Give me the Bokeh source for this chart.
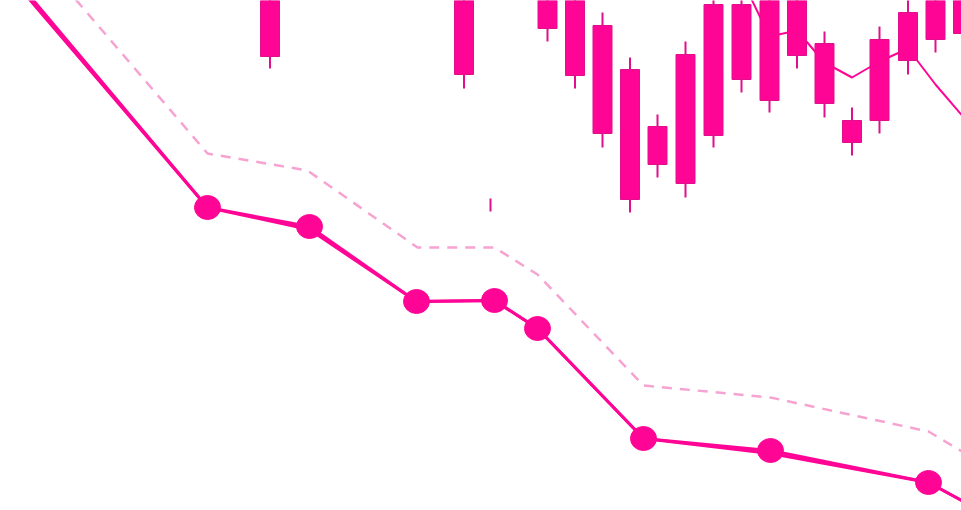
from bokeh.plotting import figure
from bokeh.models import Range1d, ColumnDataSource
from bokeh.embed import file_html
from bokeh.resources import INLINE

# ---- data ----
# candlesticks
candle_x = [269.5, 463.5, 547, 574.5, 602, 629.5, 657, 685, 713, 741, 769, 796.5, 824, 851.5, 879, 907.5, 935, 962.5]
candle_high = [540, 540, 530, 535, 498, 453, 396, 469, 518, 518, 535, 535, 479, 403, 484, 515, 530, 530]
candle_open = [525, 520, 515, 518, 485, 441, 384, 456, 506, 506, 520, 520, 467, 390, 471, 498, 515, 515]
candle_close = [454, 436, 482, 435, 377, 311, 346, 327, 375, 431, 410, 455, 407, 368, 390, 450, 471, 477]
candle_low = [442, 422, 469, 422, 363, 298, 333, 313, 363, 418, 398, 442, 393, 355, 377, 436, 458, 464]

# isolated wick
tick_x = [490]
tick_high = [312]
tick_low = [299]

# thin moving-average line
ma_x = [741, 769, 796.5, 824, 851.5, 879, 907.5, 935, 962.5]
ma_y = [532, 474, 480, 448, 433, 449, 462, 426, 394]

# main series (two nearly coincident lines)
main_x = [-30, 207, 309, 416, 494, 537, 643, 770, 928, 1000]
main_a = [580, 303, 284, 209, 210, 182, 72, 60, 28, -11]
main_b = [585, 303, 281, 209, 210, 182, 72, 57, 28, -11]

# markers on the main series
dot_x = [207, 309, 416, 494, 537, 643, 770, 928]
dot_y = [303, 284, 209, 210, 182, 72, 60, 28]

# dashed upper band
band_x = [-30, 207, 307, 417, 494, 537, 643, 770, 928, 1000]
band_y = [634, 357, 340, 263, 263, 236, 125, 113, 79, 36]

PINK = "#ff0596"
EDGE = "#e0108c"
LIGHT = "#f7a3d1"

p = figure(width=961, height=510, output_backend="svg", toolbar_location=None,
           x_range=Range1d(0, 961), y_range=Range1d(0, 510),
           x_axis_location=None, y_axis_location=None, min_border=0)
p.grid.visible = False
p.outline_line_color = None
p.background_fill_color = "white"
p.border_fill_color = "white"

p.line(band_x, band_y, line_color=LIGHT, line_width=2.5, line_dash="10 8", line_join="round")

p.line(main_x, main_a, line_color=PINK, line_width=3, line_join="round")
p.line(main_x, main_b, line_color=PINK, line_width=3, line_join="round")
p.ellipse(dot_x, dot_y, width=26, height=24, width_units="screen", height_units="screen",
          fill_color=PINK, line_color=PINK, line_width=1)

p.line(ma_x, ma_y, line_color=PINK, line_width=2, line_join="round")

src = ColumnDataSource(dict(x=candle_x, high=candle_high, low=candle_low,
                            top=candle_open, bottom=candle_close))
p.segment(x0="x", y0="high", x1="x", y1="low", source=src, line_color=EDGE, line_width=2)
p.vbar(x="x", width=19, top="top", bottom="bottom", source=src,
       fill_color=PINK, line_color=EDGE, line_width=1)
p.segment(x0=tick_x, y0=tick_high, x1=tick_x, y1=tick_low, line_color=EDGE, line_width=2)

open("out.html", "w").write(file_html(p, INLINE))
